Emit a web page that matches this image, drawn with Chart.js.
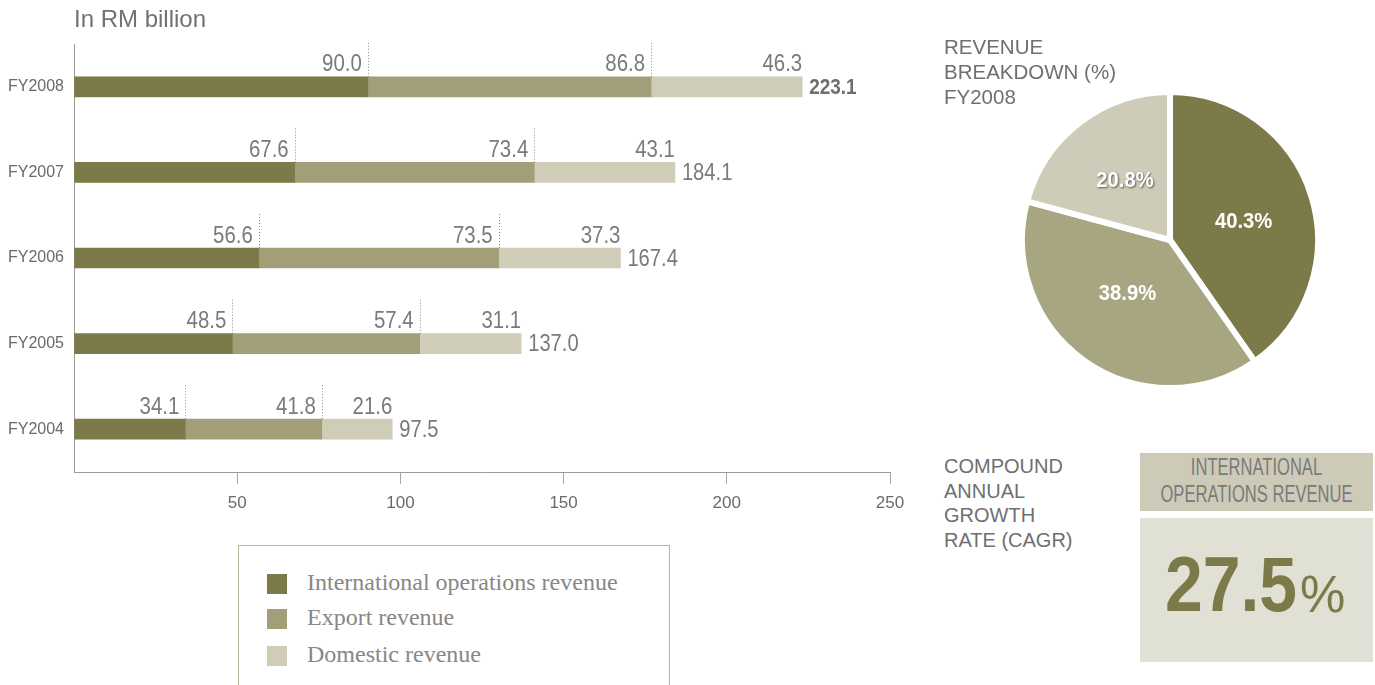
<!DOCTYPE html>
<html>
<head>
<meta charset="utf-8">
<script src="https://cdn.jsdelivr.net/npm/chart.js@4.4.1/dist/chart.umd.min.js"></script>
<style>
  html, body { margin: 0; padding: 0; background: #fff; }
  body { width: 1375px; height: 685px; position: relative; overflow: hidden;
         font-family: "Liberation Sans", Arial, sans-serif; color: #757575; }
  .abs { position: absolute; }
  #barCanvas { position: absolute; left: 0; top: 0; }
  #pieCanvas { position: absolute; left: 1019px; top: 89px; }
  #unit { left: 74px; top: 5px; font-size: 24px; color: #727272; white-space: nowrap; }
  .caps { color: #6f6f6f; text-transform: uppercase; white-space: nowrap; }
  #pieTitle { left: 944px; top: 35px; font-size: 20.5px; line-height: 24.8px; }
  #cagrTitle { left: 944px; top: 454px; font-size: 20px; line-height: 24.6px; }
  #legendBox { left: 238px; top: 545px; width: 432px; height: 170px;
               border: 1px solid #b8b69e; box-sizing: border-box; }
  .legItem { position: absolute; left: 28px; height: 20px; }
  .legItem i { position: absolute; left: 0; top: 0; width: 20px; height: 20px; }
  .legItem span { position: absolute; left: 40px; top: -5px; white-space: nowrap;
                  font-family: "Liberation Serif", "Times New Roman", serif; font-size: 24px; color: #878787; }
  #cagrHead { left: 1140px; top: 453px; width: 233px; height: 58px; background: #cdcbb8; overflow: hidden; }
  .headLine { position: absolute; left: -100px; width: 433px; text-align: center; white-space: nowrap;
              font-size: 23px; color: #7a7a7a; transform: scaleX(0.72); transform-origin: 50% 50%; }
  #cagrBody { left: 1140px; top: 518px; width: 233px; height: 144px; background: #e1e0d5; }
  #cagrNum { position: absolute; left: 25px; top: 21px; white-space: nowrap; color: #7b7a48;
             font-size: 78px; font-weight: bold; transform: scaleX(0.87); transform-origin: 0 50%; }
  #cagrPct { position: absolute; left: 160px; top: 47px; white-space: nowrap; color: #7b7a48; font-size: 51px; }
</style>
</head>
<body>
<canvas id="barCanvas" width="920" height="545"></canvas>
<canvas id="pieCanvas" width="302" height="302"></canvas>
<div id="unit" class="abs">In RM billion</div>
<div id="pieTitle" class="abs caps">Revenue<br>Breakdown (%)<br>FY2008</div>
<div id="cagrTitle" class="abs caps">Compound<br>Annual<br>Growth<br>Rate (CAGR)</div>
<div id="legendBox" class="abs"></div>
<div id="cagrHead" class="abs">
  <div class="headLine" style="top:1px">INTERNATIONAL</div>
  <div class="headLine" style="top:28px">OPERATIONS REVENUE</div>
</div>
<div id="cagrBody" class="abs"><div id="cagrNum"></div><div id="cagrPct">%</div></div>
<script>
// Revenue by financial year, RM billion
const categories = ['FY2008', 'FY2007', 'FY2006', 'FY2005', 'FY2004'];
const internationalRevenue = [90.0, 67.6, 56.6, 48.5, 34.1];
const exportRevenue = [86.8, 73.4, 73.5, 57.4, 41.8];
const domesticRevenue = [46.3, 43.1, 37.3, 31.1, 21.6];
const totalRevenue = [223.1, 184.1, 167.4, 137.0, 97.5];
const seriesNames = ['International operations revenue', 'Export revenue', 'Domestic revenue'];
const seriesColors = ['#7b7a48', '#a29e77', '#cfccb8'];
const xTickValues = [50, 100, 150, 200, 250];

// FY2008 revenue breakdown (%)
const pieShares = [40.3, 38.9, 20.8];
const pieColors = ['#7b7a48', '#a8a681', '#cecbb8'];

// Compound annual growth rate of international operations revenue (%)
const cagrValue = 27.5;

// Draws text squeezed horizontally to get a condensed face
function condensedText(ctx, text, x, y, align, sx) {
  ctx.save();
  ctx.translate(x, y);
  ctx.scale(sx, 1);
  ctx.textAlign = align;
  ctx.fillText(text, 0, 0);
  ctx.restore();
}

// Value labels above each segment end, dotted leaders and totals at the bar ends
const barLabels = {
  id: 'barLabels',
  afterDatasetsDraw(chart) {
    const ctx = chart.ctx;
    ctx.save();
    ctx.textBaseline = 'middle';
    chart.data.datasets.forEach((ds, di) => {
      const meta = chart.getDatasetMeta(di);
      meta.data.forEach((bar, i) => {
        const top = bar.y - bar.height / 2;
        if (di < 2) {
          const lx = Math.round(bar.x) + 0.5;
          ctx.setLineDash([1, 2]);
          ctx.strokeStyle = '#8a8a8a';
          ctx.lineWidth = 1;
          ctx.beginPath();
          ctx.moveTo(lx, top - 34);
          ctx.lineTo(lx, top);
          ctx.stroke();
          ctx.setLineDash([]);
        }
        ctx.font = '24px "Liberation Sans", Arial, sans-serif';
        ctx.fillStyle = '#7a7a7a';
        condensedText(ctx, ds.data[i].toFixed(1), di < 2 ? bar.x - 6 : bar.x, bar.y - 22, 'right', 0.85);
        if (di === 2) {
          if (i === 0) {
            ctx.font = 'bold 22px "Liberation Sans", Arial, sans-serif';
            ctx.fillStyle = '#6e6e6e';
          } else {
            ctx.font = '24px "Liberation Sans", Arial, sans-serif';
            ctx.fillStyle = '#7a7a7a';
          }
          condensedText(ctx, totalRevenue[i].toFixed(1), bar.x + 7, bar.y + 1, 'left', i === 0 ? 0.86 : 0.84);
        }
      });
    });
    ctx.restore();
  }
};

new Chart(document.getElementById('barCanvas'), {
  type: 'bar',
  data: {
    labels: categories,
    datasets: [
      { label: seriesNames[0], data: internationalRevenue, backgroundColor: seriesColors[0] },
      { label: seriesNames[1], data: exportRevenue, backgroundColor: seriesColors[1] },
      { label: seriesNames[2], data: domesticRevenue, backgroundColor: seriesColors[2] }
    ]
  },
  options: {
    indexAxis: 'y',
    responsive: false,
    animation: false,
    barThickness: 20,
    layout: { padding: { top: 44, right: 30, left: 0, bottom: 0 } },
    plugins: { legend: { display: false }, tooltip: { enabled: false } },
    scales: {
      x: {
        stacked: true, min: 0, max: 250,
        afterBuildTicks: s => { s.ticks = [0].concat(xTickValues).map(v => ({ value: v })); },
        ticks: { callback: v => (v === 0 ? '' : v), font: { size: 17, family: 'Liberation Sans' }, color: '#6a6a6a', padding: 9, maxRotation: 0 },
        grid: { drawOnChartArea: false, drawTicks: true, tickLength: 12,
                color: c => (c.tick && c.tick.value === 0 ? 'rgba(0,0,0,0)' : '#a8a8a8') },
        border: { color: '#9a9a9a', width: 1 },
        afterFit: s => { s.height = 73; }
      },
      y: {
        stacked: true,
        ticks: { font: { size: 16, family: 'Liberation Sans' }, color: '#6a6a6a', padding: 10 },
        grid: { drawOnChartArea: false, drawTicks: false },
        border: { color: '#9a9a9a', width: 1 },
        afterFit: s => { s.width = 74; }
      }
    }
  },
  plugins: [barLabels]
});

// Percent labels inside the pie slices
const pieLabels = {
  id: 'pieLabels',
  afterDatasetsDraw(chart) {
    const ctx = chart.ctx;
    ctx.save();
    ctx.font = 'bold 22px "Liberation Sans", Arial, sans-serif';
    ctx.textBaseline = 'middle';
    chart.getDatasetMeta(0).data.forEach((arc, i) => {
      const p = arc.tooltipPosition();
      if (i === 2) {
        ctx.shadowColor = 'rgba(70,70,70,0.85)';
        ctx.shadowBlur = 2;
        ctx.shadowOffsetX = 1;
        ctx.shadowOffsetY = 1;
      } else {
        ctx.shadowColor = 'rgba(0,0,0,0)';
      }
      ctx.fillStyle = '#ffffff';
      condensedText(ctx, pieShares[i].toFixed(1) + '%', p.x + (i === 0 ? 3 : 0), p.y + (i === 0 ? 4 : (i === 1 ? -7 : 0)), 'center', 0.92);
    });
    ctx.restore();
  }
};

new Chart(document.getElementById('pieCanvas'), {
  type: 'pie',
  data: {
    labels: seriesNames,
    datasets: [{ data: pieShares, backgroundColor: pieColors, borderColor: '#ffffff', borderWidth: 6 }]
  },
  options: {
    responsive: false,
    animation: false,
    plugins: { legend: { display: false }, tooltip: { enabled: false } }
  },
  plugins: [pieLabels]
});

// Legend
const legendBox = document.getElementById('legendBox');
const legendTops = [28, 63, 100];
seriesNames.forEach((name, i) => {
  const item = document.createElement('div');
  item.className = 'legItem';
  item.style.top = legendTops[i] + 'px';
  item.innerHTML = '<i style="background:' + seriesColors[i] + '"></i><span>' + name + '</span>';
  legendBox.appendChild(item);
});

document.getElementById('cagrNum').textContent = cagrValue.toFixed(1);
</script>
</body>
</html>
